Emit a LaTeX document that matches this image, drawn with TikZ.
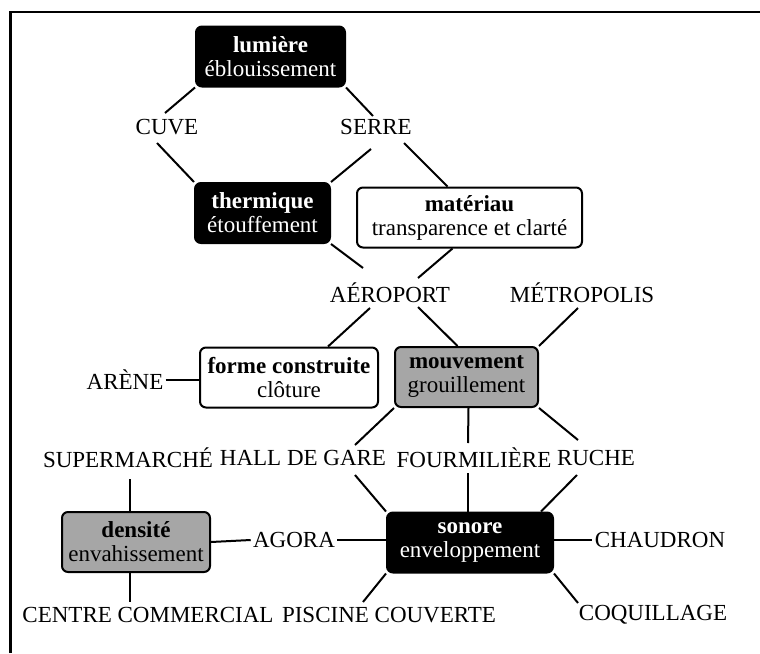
\documentclass[tikz,border=0pt]{standalone}
\usepackage{fontspec}
\setmainfont{Liberation Serif}
\usetikzlibrary{calc}

\begin{document}
\begin{tikzpicture}[x=0.5pt, y=-0.5pt,
  cat/.style={draw, line width=1pt, rounded corners=3pt, minimum height=30pt,
              inner xsep=2pt, inner ysep=1pt, align=center,
              font=\fontsize{11.5}{12}\selectfont},
  dark/.style={cat, fill=black, text=white},
  plain/.style={cat, fill=white},
  shaded/.style={cat, fill=black!35},
  site/.style={font=\fontsize{11.5}{12}\selectfont, inner sep=1pt},
  link/.style={line width=1pt}
]
  \useasboundingbox (0,0) rectangle (760,653);
  \draw[line width=1.3pt] (10.5,653) -- (10.5,12) -- (760,12);

  % categories
  \node[dark,   minimum width=74.5pt] (lum)   at (270.5,56.5) {\textbf{lumière}\\éblouissement};
  \node[dark,   minimum width=67.5pt] (therm) at (262.5,213)  {\textbf{thermique}\\étouffement};
  \node[plain,  minimum width=112.5pt] (mat)  at (469.5,217.5) {\textbf{matériau}\\transparence et clarté};
  \node[plain,  minimum width=89pt]   (forme) at (289,377.5)  {\textbf{forme construite}\\clôture};
  \node[shaded, minimum width=71.5pt] (mouv)  at (466.5,377)  {\textbf{mouvement}\\grouillement};
  \node[shaded, minimum width=74pt]   (dens)  at (136,542)    {\textbf{densité}\\envahissement};
  \node[dark,   minimum width=83pt]   (son)   at (470,542.5)  {\textbf{sonore}\\enveloppement};

  % places
  \node[site] (cuve)    at (167,127) {CUVE};
  \node[site] (serre)   at (376,127) {SERRE};
  \node[site] (aero)    at (390,293) {AÉROPORT};
  \node[site] (metro)   at (582,293) {MÉTROPOLIS};
  \node[site] (arene)   at (125,380) {ARÈNE};
  \node[site] (super)   at (128,458) {SUPERMARCHÉ};
  \node[site] (hall)    at (303,458) {HALL DE GARE};
  \node[site] (four)    at (474,458) {FOURMILIÈRE};
  \node[site] (ruche)   at (596,458) {RUCHE};
  \node[site] (agora)   at (294,540) {AGORA};
  \node[site] (chaud)   at (660,540) {CHAUDRON};
  \node[site] (centre)  at (148,615) {CENTRE COMMERCIAL};
  \node[site] (piscine) at (389,615) {PISCINE COUVERTE};
  \node[site] (coq)     at (653,615) {COQUILLAGE};

  % links
  \draw[link] (lum.south west) -- ($(cuve)+(-2,-14)$);
  \draw[link] (lum.south east) -- ($(serre)+(-3,-11)$);
  \draw[link] ($(cuve)+(-10,16)$) -- (therm.north west);
  \draw[link] ($(serre)+(-5,22)$) -- (therm.north east);
  \draw[link] ($(serre)+(28,16)$) -- ($(mat.north)+(-22,0)$);
  \draw[link] (therm.south east) -- ($(aero)+(-27,-25)$);
  \draw[link] ($(mat.south)+(-17,0)$) -- ($(aero)+(28,-15)$);
  \draw[link] ($(aero)+(-20,15)$) -- ($(forme.north)+(39,0)$);
  \draw[link] ($(aero)+(28,14)$) -- ($(mouv.north)+(-9,0)$);
  \draw[link] ($(metro)+(-4,15)$) -- (mouv.north east);
  \draw[link] (arene.east) -- (arene.east -| forme.west);
  \draw[link] (mouv.south west) -- ($(hall)+(52,-13)$);
  \draw[link] ($(mouv.south)+(2,0)$) -- ($(four)+(-6,-15)$);
  \draw[link] (mouv.south east) -- ($(ruche)+(-18,-18)$);
  \draw[link] ($(hall)+(52,17)$) -- (son.north west);
  \draw[link] ($(four)+(-6,15)$) -- ($(son.north)+(-2,0)$);
  \draw[link] ($(ruche)+(-19,17)$) -- ($(son.north east)+(-13,0)$);
  \draw[link] ($(super)+(2,21)$) -- ($(dens.north)+(-6,0)$);
  \draw[link] ($(dens.south)+(-6,0)$) -- ($(centre)+(-18,-13)$);
  \draw[link] (dens.east) -- (agora.west);
  \draw[link] (agora.east) -- (agora.east -| son.west);
  \draw[link] (son.east |- chaud.west) -- (chaud.west);
  \draw[link] (son.south west) -- ($(piscine)+(-26,-13)$);
  \draw[link] (son.south east) -- ($(coq)+(-75,-12)$);
\end{tikzpicture}
\end{document}
